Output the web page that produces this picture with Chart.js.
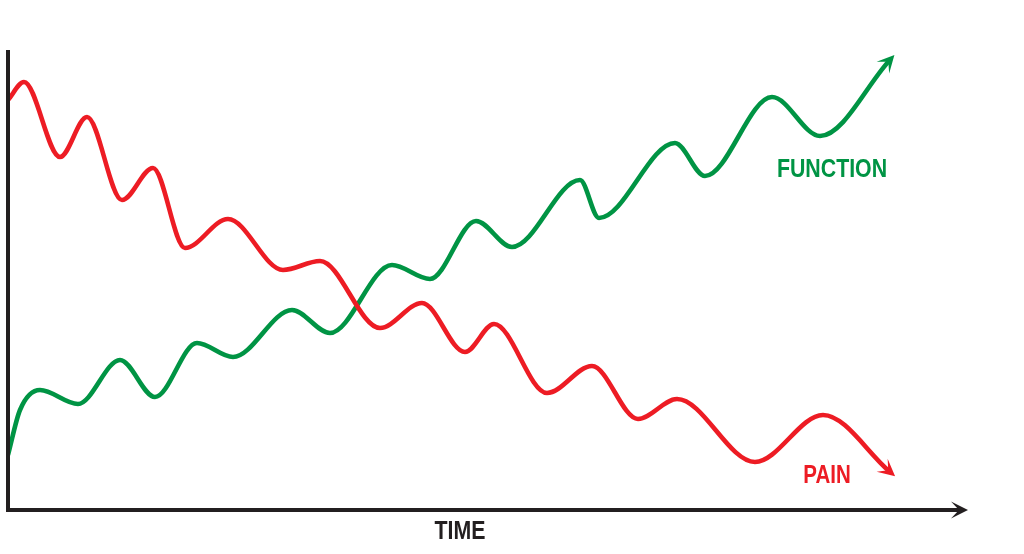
<!DOCTYPE html>
<html>
<head>
<meta charset="utf-8">
<script src="https://cdn.jsdelivr.net/npm/chart.js@4"></script>
<style>
html,body{margin:0;padding:0;background:#fff;}
#wrap{width:1024px;height:554px;position:relative;}
</style>
</head>
<body>
<div id="wrap"><canvas id="c" width="1024" height="554"></canvas></div>
<script>
// Time positions and levels (arbitrary units)
const painTime = [0,16,52,79,114,145,177,220,275,312,372,414,457,486,539,584,630,669,747,815,881];
const painLevel = [410,428,353,393,310,342,262,291,240,249,182,207,158,186,117,144,91,111,48,95,39];
const functionTime = [0,12,32,70,112,147,189,225,284,322,384,422,468,504,572,591,667,697,764,812,881];
const functionLevel = [55,100,120,106,150,113,167,153,200,177,245,231,289,263,330,292,367,334,413,374,449];
const axisLabels = {x:'TIME', pain:'PAIN', func:'FUNCTION'};
const seriesNames = ['PAIN','FUNCTION'];

const RED = '#ed1c24', GREEN = '#009444', AXIS = '#231f20';

function toXY(xs, ys){ return xs.map((x,i)=>({x:x,y:ys[i]})); }

function arrowHead(ctx, tipX, tipY, dx, dy, len, half, color){
  const L = Math.hypot(dx,dy); const ux=dx/L, uy=dy/L; const px=-uy, py=ux;
  const bx = tipX-ux*len, by = tipY-uy*len;
  ctx.save();
  ctx.fillStyle=color;
  ctx.beginPath();
  ctx.moveTo(tipX,tipY);
  ctx.lineTo(bx+px*half - ux*2, by+py*half - uy*2);
  ctx.lineTo(tipX-ux*len*0.6, tipY-uy*len*0.6);
  ctx.lineTo(bx-px*half - ux*2, by-py*half - uy*2);
  ctx.closePath();
  ctx.fill();
  ctx.restore();
}

function narrowText(ctx, text, cx, baseY, size, color){
  ctx.save();
  ctx.font = "bold " + size + "px 'Liberation Sans', Arial, sans-serif";
  ctx.fillStyle = color; ctx.textAlign = 'center'; ctx.textBaseline = 'alphabetic';
  ctx.translate(cx, baseY);
  ctx.scale(0.82, 1);
  ctx.fillText(text, 0, 0);
  ctx.restore();
}

const decor = {
  id:'decor',
  afterDatasetsDraw(chart){
    const ctx = chart.ctx, xs = chart.scales.x, ys = chart.scales.y;
    const x0 = xs.getPixelForValue(xs.min), x1 = xs.getPixelForValue(xs.max);
    const y0 = ys.getPixelForValue(ys.min), y1 = ys.getPixelForValue(ys.max);
    // axes
    ctx.save();
    ctx.strokeStyle = AXIS; ctx.lineWidth = 4; ctx.lineCap='butt';
    ctx.beginPath();
    ctx.moveTo(x0, y1); ctx.lineTo(x0, y0); ctx.lineTo(x1-6, y0);
    ctx.stroke();
    ctx.restore();
    arrowHead(ctx, x1, y0, 1, 0, 15, 8.5, AXIS);
    // arrowheads on series ends
    chart.data.datasets.forEach((ds, i)=>{
      const meta = chart.getDatasetMeta(i);
      const pts = meta.data; const last = pts[pts.length-1];
      const dx = last.x - last.cp1x, dy = last.y - last.cp1y;
      const L = Math.hypot(dx,dy);
      arrowHead(ctx, last.x + dx/L*8, last.y + dy/L*8, dx, dy, 15, 8.5, ds.borderColor);
    });
    // labels
    narrowText(ctx, axisLabels.func, xs.getPixelForValue(824), ys.getPixelForValue(333), 26, GREEN);
    narrowText(ctx, axisLabels.pain, xs.getPixelForValue(819), ys.getPixelForValue(27), 25, RED);
    narrowText(ctx, axisLabels.x, xs.getPixelForValue(452), y0 + 29, 26, AXIS);
  }
};

new Chart(document.getElementById('c'), {
  type:'line',
  data:{
    datasets:[
      {label:seriesNames[0], data:toXY(painTime, painLevel), borderColor:RED, borderWidth:4.6, pointRadius:0, cubicInterpolationMode:'monotone', fill:false},
      {label:seriesNames[1], data:toXY(functionTime, functionLevel), borderColor:GREEN, borderWidth:4.6, pointRadius:0, cubicInterpolationMode:'monotone', fill:false}
    ]
  },
  options:{
    responsive:false, animation:false, devicePixelRatio:1,
    layout:{padding:{left:8, top:50, right:56, bottom:44}},
    plugins:{legend:{display:false}, tooltip:{enabled:false}},
    scales:{
      x:{type:'linear', min:0, max:960, display:false},
      y:{type:'linear', min:0, max:460, display:false}
    }
  },
  plugins:[decor]
});
</script>
</body>
</html>
